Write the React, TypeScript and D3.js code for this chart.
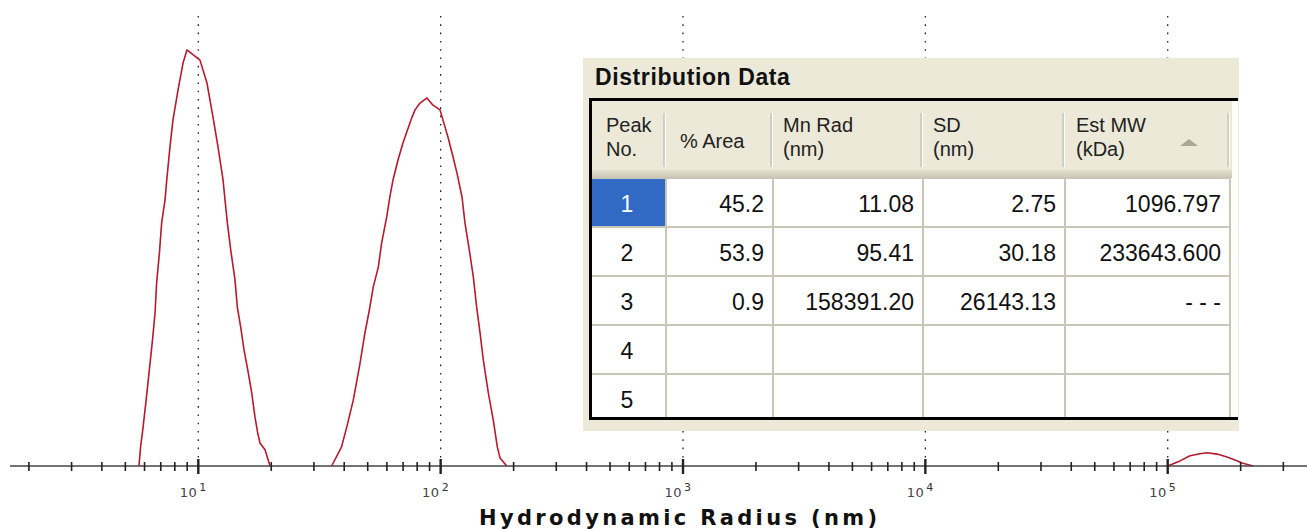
import React, { useEffect, useRef } from 'react';
import * as d3 from 'd3';

// size distribution (radius in nm, intensity in arbitrary %)
const peak1Radius = [5.69, 5.78, 5.90, 6.08, 6.28, 6.46, 6.63, 6.73, 6.91, 7.06, 7.29, 7.41, 7.64, 7.86, 8.25, 8.65, 8.98, 10.16, 10.86, 11.50, 12.06, 12.65, 12.89, 13.17, 13.61, 14.17, 14.49, 14.96, 15.44, 16.08, 16.61, 17.14, 17.58, 17.97, 18.85, 19.77];
const peak1Intensity = [0, 4.5, 8.5, 15.1, 22.6, 29.2, 36.0, 43.1, 50.1, 57.2, 62.6, 67.3, 75.1, 81.4, 88.5, 94.8, 97.9, 95.5, 90.1, 82.1, 75.1, 67.3, 62.6, 57.4, 50.8, 43.8, 37.4, 32.7, 27.3, 21.9, 17.2, 11.5, 7.8, 5.4, 3.8, 0];

const peak2Radius = [35.5, 39.0, 41.0, 43.6, 46.5, 48.7, 50.8, 52.7, 55.3, 57.1, 59.9, 61.8, 63.6, 66.7, 69.9, 76.2, 78.4, 82.2, 87.8, 93.0, 99.4, 104.2, 107.2, 112.5, 116.8, 122.5, 126.0, 131.3, 136.4, 140.8, 145.4, 150.0, 157.3, 164.9, 171.3, 175.8, 187.3];
const peak2Intensity = [0, 4.5, 9.2, 15.5, 24.2, 31.3, 36.7, 42.1, 46.8, 52.5, 58.6, 63.5, 67.3, 72.0, 76.0, 82.1, 83.8, 85.4, 86.6, 84.9, 83.8, 79.8, 77.4, 72.7, 68.9, 63.3, 57.2, 50.8, 44.5, 37.4, 31.3, 24.9, 17.2, 10.8, 4.5, 1.9, 0];

const peak3Radius = [100000, 112400, 123600, 135950, 145300, 159700, 175600, 189600, 202600, 224900];
const peak3Intensity = [0, 1.2, 2.4, 2.9, 3.1, 2.8, 2.1, 1.4, 0.7, 0];

const decades = [10, 100, 1000, 10000, 100000];
const decadeExp = ['1', '2', '3', '4', '5'];
const axisTitle = 'Hydrodynamic Radius (nm)';

// distribution table
const tableTitle = 'Distribution Data';
const headerTop = ['Peak', '% Area', 'Mn Rad', 'SD', 'Est MW'];
const headerBottom = ['No.', '', '(nm)', '(nm)', '(kDa)'];
const peakNo = ['1', '2', '3', '4', '5'];
const pctArea = ['45.2', '53.9', '0.9', '', ''];
const mnRad = ['11.08', '95.41', '158391.20', '', ''];
const sdNm = ['2.75', '30.18', '26143.13', '', ''];
const estMw = ['1096.797', '233643.600', '- - -', '', ''];

const W = 1307;
const H = 529;

const App: React.FC = () => {
    const svgRef = useRef<SVGSVGElement | null>(null);

    useEffect(() => {
        if (!svgRef.current) return;
        const svg = d3.select(svgRef.current);
        svg.selectAll('*').remove();

        const axisY = 466;
        const x = d3.scaleLog().domain([10, 100000]).range([198.3, 1167.7]);
        const y = d3.scaleLinear().domain([0, 100]).range([axisY, 41]);

        // dotted decade gridlines
        svg.selectAll('line.grid')
            .data(decades)
            .enter()
            .append('line')
            .attr('x1', (d) => x(d))
            .attr('x2', (d) => x(d))
            .attr('y1', 16)
            .attr('y2', axisY)
            .style('stroke', '#222')
            .style('stroke-width', 1.3)
            .style('stroke-dasharray', '1.6,6.7');

        // curves
        const peaks = [
            { r: peak1Radius, v: peak1Intensity },
            { r: peak2Radius, v: peak2Intensity },
            { r: peak3Radius, v: peak3Intensity },
        ];
        peaks.forEach((p) => {
            const line = d3.line<number>()
                .x((d, i) => x(p.r[i]))
                .y((d) => y(d));
            svg.append('path')
                .attr('d', line(p.v) as string)
                .style('fill', 'none')
                .style('stroke', '#b51a30')
                .style('stroke-width', 1.6)
                .style('stroke-linejoin', 'round');
        });

        // axis
        const lo = x.invert(10);
        const hi = x.invert(W);
        const tickVals = d3.scaleLog().domain([lo, hi]).ticks();
        const isMajor = (d: number) => Math.abs(Math.log10(d) - Math.round(Math.log10(d))) < 1e-9;

        svg.append('line')
            .attr('x1', x(lo)).attr('x2', x(hi))
            .attr('y1', axisY).attr('y2', axisY)
            .style('stroke', '#444')
            .style('stroke-width', 1.5);

        svg.selectAll('line.tick')
            .data(tickVals)
            .enter()
            .append('line')
            .attr('x1', (d) => x(d))
            .attr('x2', (d) => x(d))
            .attr('y1', (d) => (isMajor(d) ? axisY - 7 : axisY - 4))
            .attr('y2', (d) => (isMajor(d) ? axisY + 8 : axisY + 5))
            .style('stroke', '#222')
            .style('stroke-width', (d) => (isMajor(d) ? 2.4 : 1.6));

        const labels = svg.selectAll('g.lbl')
            .data(decades)
            .enter()
            .append('g')
            .attr('transform', (d) => `translate(${x(d)},0)`);
        labels.append('text')
            .attr('x', -1)
            .attr('y', 497)
            .attr('text-anchor', 'end')
            .style('font-family', 'DejaVu Sans')
            .style('font-size', '13px')
            .style('letter-spacing', '0.5px')
            .style('fill', '#444')
            .text('10');
        labels.append('text')
            .attr('x', 1)
            .attr('y', 491)
            .style('font-family', 'DejaVu Sans')
            .style('font-size', '11px')
            .style('fill', '#333')
            .text((d, i) => decadeExp[i]);

        svg.append('text')
            .attr('x', 678)
            .attr('y', 525)
            .attr('text-anchor', 'middle')
            .attr('textLength', 398)
            .attr('lengthAdjust', 'spacing')
            .style('font-family', 'DejaVu Sans')
            .style('font-weight', 'bold')
            .style('font-size', '21px')
            .style('fill', '#111')
            .text(axisTitle);

        // ---- table panel ----
        const beige = '#ece9d8';
        const gridCol = '#c9c6b8';
        const colEdges = [591, 666, 773, 923, 1065, 1230];
        const rowTop = 178;
        const rowH = 49;
        const tbl = svg.append('g');

        tbl.append('rect').attr('x', 583).attr('y', 58).attr('width', 656).attr('height', 373).style('fill', beige);
        tbl.append('text')
            .attr('x', 595).attr('y', 85)
            .style('font-family', 'Liberation Sans')
            .style('font-weight', 'bold')
            .style('font-size', '23px')
            .style('letter-spacing', '0.6px')
            .style('fill', '#111')
            .text(tableTitle);

        // body background
        tbl.append('rect').attr('x', 591).attr('y', rowTop).attr('width', 647).attr('height', 240).style('fill', '#fff');
        // header strip
        tbl.append('rect').attr('x', 1232).attr('y', 101).attr('width', 6).attr('height', 77).style('fill', '#fff');
        const defs = svg.append('defs');
        const grad = defs.append('linearGradient').attr('id', 'hdrShade').attr('x1', 0).attr('x2', 0).attr('y1', 0).attr('y2', 1);
        grad.append('stop').attr('offset', '0%').attr('stop-color', '#e4e1d2');
        grad.append('stop').attr('offset', '100%').attr('stop-color', '#c9c5b5');
        tbl.append('rect').attr('x', 591).attr('y', 170).attr('width', 641).attr('height', 8).style('fill', 'url(#hdrShade)');

        // header separators
        colEdges.slice(1).forEach((cx) => {
            tbl.append('line').attr('x1', cx - 2).attr('x2', cx - 2).attr('y1', 113).attr('y2', 167)
                .style('stroke', '#c7c4b4').style('stroke-width', 1.5);
            tbl.append('line').attr('x1', cx - 0.5).attr('x2', cx - 0.5).attr('y1', 113).attr('y2', 167)
                .style('stroke', '#fff').style('stroke-width', 1);
        });

        const hdrX = [606, 680, 783, 933, 1076];
        headerTop.forEach((t, i) => {
            const single = headerBottom[i] === '';
            tbl.append('text')
                .attr('x', hdrX[i]).attr('y', single ? 148 : 132)
                .style('font-family', 'Liberation Sans')
                .style('font-size', '20px')
                .style('fill', '#222')
                .text(t);
            if (!single) {
                tbl.append('text')
                    .attr('x', hdrX[i]).attr('y', 156)
                    .style('font-family', 'Liberation Sans')
                    .style('font-size', '20px')
                    .style('fill', '#222')
                    .text(headerBottom[i]);
            }
        });
        tbl.append('path').attr('d', 'M1180,146 L1198,146 L1189,139 Z').style('fill', '#aca899');

        // selected cell
        tbl.append('rect').attr('x', colEdges[0] + 1).attr('y', rowTop + 1).attr('width', colEdges[1] - colEdges[0] - 2).attr('height', rowH - 2).style('fill', '#316ac5');

        // cell grid
        d3.range(5).forEach((r) => {
            tbl.append('line').attr('x1', colEdges[0]).attr('x2', colEdges[5]).attr('y1', rowTop + r * rowH).attr('y2', rowTop + r * rowH)
                .style('stroke', gridCol).style('stroke-width', 2);
        });
        colEdges.slice(1).forEach((cx) => {
            tbl.append('line').attr('x1', cx).attr('x2', cx).attr('y1', rowTop).attr('y2', 417)
                .style('stroke', gridCol).style('stroke-width', 2);
        });

        // cell text
        const cols = [pctArea, mnRad, sdNm, estMw];
        peakNo.forEach((p, r) => {
            const base = rowTop + r * rowH + 34;
            tbl.append('text')
                .attr('x', 627).attr('y', base)
                .attr('text-anchor', 'middle')
                .style('font-family', 'Liberation Sans')
                .style('font-size', '23px')
                .style('fill', r === 0 ? '#fff' : '#111')
                .text(p);
            cols.forEach((col, c) => {
                tbl.append('text')
                    .attr('x', colEdges[c + 2] - 9).attr('y', base)
                    .attr('text-anchor', 'end')
                    .style('font-family', 'Liberation Sans')
                    .style('font-size', '23px')
                    .style('fill', '#111')
                    .text(col[r]);
            });
        });

        // black frame
        tbl.append('line').attr('x1', 589).attr('x2', 1238).attr('y1', 99.5).attr('y2', 99.5).style('stroke', '#000').style('stroke-width', 3);
        tbl.append('line').attr('x1', 590.5).attr('x2', 590.5).attr('y1', 99).attr('y2', 420).style('stroke', '#000').style('stroke-width', 3);
        tbl.append('line').attr('x1', 589).attr('x2', 1238).attr('y1', 418.5).attr('y2', 418.5).style('stroke', '#000').style('stroke-width', 3);
    }, []);

    return (
        <svg ref={svgRef} width={W} height={H}
            style={{ position: 'absolute', left: 0, top: 0, background: '#fff' }}>
        </svg>
    );
};

export default App;
